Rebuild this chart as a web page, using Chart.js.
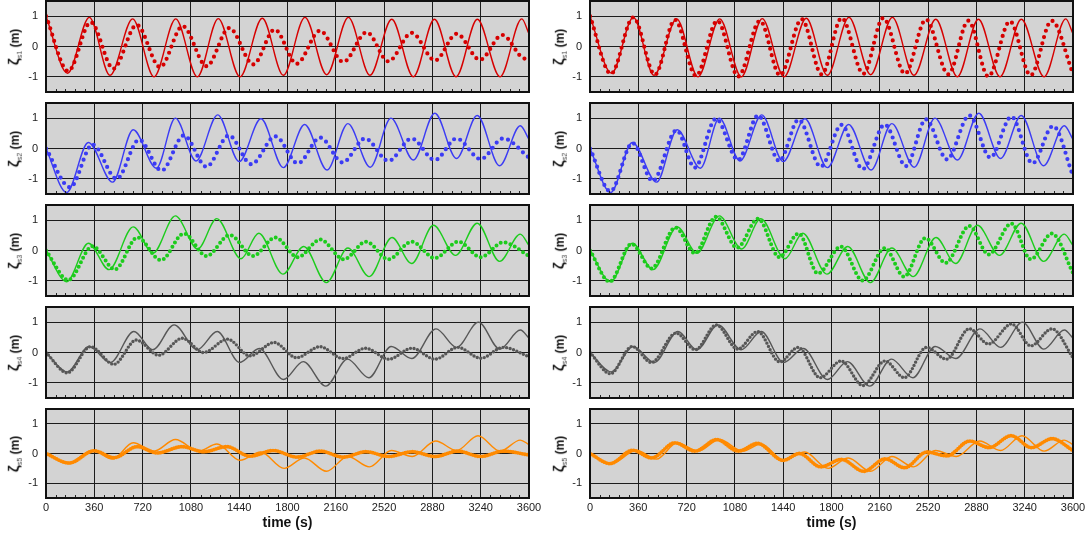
<!DOCTYPE html>
<html>
<head>
<meta charset="utf-8">
<script src="https://cdn.jsdelivr.net/npm/chart.js@4.4.0/dist/chart.umd.min.js"></script>
<style>
  body { margin: 0; background: #fff; width: 1089px; height: 538px; overflow: hidden; position: relative;
         font-family: 'Liberation Sans', Arial, sans-serif; }
  canvas { position: absolute; }
  .ylab { position: absolute; transform: translate(-50%, -50%) rotate(-90deg); white-space: nowrap;
          font-weight: bold; font-size: 12px; color: #111; }
  .ylab .z { font-size: 15px; }
  .ylab sub { font-size: 7px; font-weight: normal; color: #444; }
</style>
</head>
<body>
<script>
// axis ticks
const timeTicks = [0, 360, 720, 1080, 1440, 1800, 2160, 2520, 2880, 3240, 3600];
const zetaTicks = [-1, 0, 1];

// [time (s), elevation (m)] at turning points; solid curves are shared by both columns
const zeta1Line = [[0,1],[161,-0.88],[323,0.96],[477,-0.95],[646,0.91],[805,-1.0],[967,0.91],[1128,-1.0],[1284,0.92],[1446,-1.0],[1612,0.93],[1769,-0.95],[1930,0.96],[2092,-0.93],[2254,0.96],[2415,-0.95],[2577,0.9],[2738,-1.0],[2895,0.9],[3056,-1.0],[3215,0.9],[3384,-1.0],[3546,0.91],[3600,0.42]];
const zeta1Left = [[0,1],[166,-0.81],[333,0.8],[502,-0.73],[676,0.71],[850,-0.68],[1019,0.67],[1197,-0.65],[1366,0.61],[1545,-0.59],[1705,0.56],[1868,-0.57],[2042,0.52],[2216,-0.51],[2390,0.47],[2552,-0.49],[2726,0.45],[2900,-0.46],[3061,0.42],[3234,-0.44],[3401,0.38],[3570,-0.4],[3600,-0.39]];
const zeta1Right = [[0,1],[156,-0.9],[323,0.96],[484,-0.93],[633,0.88],[790,-0.97],[949,0.85],[1105,-0.99],[1267,0.85],[1416,-0.95],[1578,0.9],[1727,-0.92],[1876,0.94],[2037,-0.9],[2186,0.94],[2348,-0.9],[2504,0.89],[2671,-0.92],[2820,0.85],[2969,-0.99],[3130,0.83],[3284,-0.95],[3441,0.85],[3600,-0.9]];

const zeta2Line = [[0,0],[154,-1.45],[316,0.2],[496,-1.11],[650,0.62],[823,-0.65],[964,1.0],[1118,-0.41],[1280,1.11],[1440,-0.43],[1602,0.98],[1769,-0.63],[1928,0.79],[2095,-0.71],[2250,0.82],[2417,-0.62],[2571,1.0],[2738,-0.38],[2898,1.16],[3060,-0.33],[3214,1.09],[3381,-0.57],[3535,0.75],[3600,0.3]];
const zeta2Left = [[0,0],[180,-1.28],[347,0.13],[527,-1.0],[694,0.29],[861,-0.73],[1028,0.43],[1196,-0.6],[1363,0.43],[1530,-0.52],[1710,0.4],[1877,-0.49],[2044,0.36],[2211,-0.46],[2378,0.33],[2553,-0.41],[2725,0.33],[2898,-0.38],[3060,0.33],[3240,-0.35],[3407,0.33],[3600,-0.3]];
const zeta2Right = [[0,0],[152,-1.41],[317,0.18],[467,-1.07],[645,0.6],[781,-0.63],[939,0.98],[1104,-0.38],[1253,1.09],[1411,-0.41],[1555,0.95],[1720,-0.6],[1875,0.78],[2032,-0.68],[2197,0.79],[2355,-0.58],[2504,0.96],[2661,-0.36],[2827,1.09],[2984,-0.3],[3141,1.05],[3298,-0.49],[3451,0.74],[3600,-0.9]];

const zeta3Line = [[0,0],[154,-1.03],[316,0.24],[470,-0.63],[650,0.78],[797,-0.09],[964,1.14],[1131,0.05],[1273,1.05],[1453,-0.27],[1586,0.57],[1766,-0.78],[1921,0.13],[2090,-1.06],[2250,0.08],[2409,-0.86],[2579,0.43],[2725,-0.43],[2888,0.83],[3052,-0.16],[3214,0.9],[3381,-0.36],[3535,0.54],[3600,0.16]];
const zeta3Left = [[0,0],[167,-0.97],[347,0.14],[514,-0.62],[681,0.43],[856,-0.32],[1028,0.56],[1196,-0.18],[1370,0.51],[1543,-0.18],[1710,0.43],[1877,-0.22],[2044,0.36],[2219,-0.29],[2386,0.29],[2553,-0.29],[2725,0.29],[2898,-0.25],[3073,0.29],[3240,-0.22],[3407,0.27],[3600,-0.18]];
const zeta3Right = [[0,0],[147,-1.03],[309,0.22],[459,-0.59],[637,0.76],[781,-0.09],[939,1.11],[1096,0.09],[1253,1.05],[1411,-0.22],[1555,0.56],[1699,-0.76],[1870,0.13],[2032,-0.99],[2197,0.08],[2341,-0.86],[2499,0.41],[2651,-0.41],[2827,0.81],[2971,-0.13],[3141,0.89],[3285,-0.29],[3443,0.56],[3600,-0.74]];

const zeta4Line = [[0,0],[159,-0.64],[321,0.2],[480,-0.33],[655,0.69],[796,0.09],[955,0.91],[1127,0.09],[1276,0.69],[1443,-0.33],[1590,0.13],[1769,-0.89],[1918,-0.3],[2085,-1.11],[2247,-0.22],[2406,-0.83],[2573,0.2],[2727,-0.2],[2907,0.78],[3061,0.17],[3223,1.0],[3382,0.11],[3536,0.74],[3600,0.47]];
const zeta4Left = [[0,0],[159,-0.67],[331,0.19],[506,-0.39],[673,0.41],[840,-0.09],[1015,0.47],[1174,0.0],[1353,0.44],[1520,-0.11],[1700,0.33],[1867,-0.17],[2042,0.19],[2214,-0.2],[2381,0.14],[2555,-0.22],[2727,0.14],[2900,-0.22],[3069,0.17],[3241,-0.19],[3408,0.17],[3600,-0.14]];
const zeta4Right = [[0,0],[152,-0.7],[314,0.2],[458,-0.33],[641,0.64],[785,0.09],[942,0.91],[1100,0.11],[1249,0.69],[1414,-0.31],[1552,0.17],[1715,-0.83],[1872,-0.28],[2034,-1.09],[2199,-0.28],[2343,-0.83],[2508,0.17],[2657,-0.22],[2827,0.78],[2971,0.28],[3142,0.94],[3286,0.22],[3443,0.78],[3600,-0.17]];

const zeta5Line = [[0,0],[161,-0.34],[346,0.11],[495,-0.19],[650,0.36],[804,0.08],[965,0.47],[1138,0.08],[1274,0.32],[1447,-0.23],[1600,0.05],[1775,-0.5],[1925,-0.15],[2090,-0.6],[2250,-0.1],[2410,-0.45],[2575,0.1],[2730,-0.1],[2905,0.42],[3060,0.1],[3220,0.6],[3385,0.08],[3535,0.45],[3600,0.3]];
const zeta5Left = [[0,0],[173,-0.32],[359,0.09],[507,-0.14],[680,0.23],[829,0.02],[1014,0.23],[1175,0.06],[1348,0.23],[1521,-0.09],[1695,0.1],[1870,-0.12],[2045,0.08],[2215,-0.12],[2385,0.06],[2555,-0.1],[2730,0.06],[2900,-0.1],[3070,0.08],[3240,-0.1],[3410,0.08],[3600,-0.05]];
const zeta5Right = [[0,0],[149,-0.34],[318,0.11],[459,-0.15],[633,0.36],[782,0.08],[944,0.47],[1105,0.08],[1247,0.34],[1440,-0.23],[1560,0.0],[1720,-0.45],[1875,-0.2],[2040,-0.6],[2200,-0.18],[2345,-0.48],[2510,0.05],[2660,-0.08],[2830,0.42],[2975,0.2],[3140,0.6],[3290,0.2],[3445,0.5],[3600,0.1]];

const FONT = "'Liberation Sans', Arial, sans-serif";

const rows = [
  { sub: 's1', color: '#d60000', line: zeta1Line, left: zeta1Left, right: zeta1Right, dot: 4.2, gap: 6.5 },
  { sub: 's2', color: '#3b3bf4', line: zeta2Line, left: zeta2Left, right: zeta2Right, dot: 4.2, gap: 6.5 },
  { sub: 's3', color: '#1ccc1c', line: zeta3Line, left: zeta3Left, right: zeta3Right, dot: 4.0, gap: 5 },
  { sub: 's4', color: '#575757', line: zeta4Line, left: zeta4Left, right: zeta4Right, dot: 3.4, gap: 3.6 },
  { sub: 's5', color: '#ff8a00', line: zeta5Line, left: zeta5Left, right: zeta5Right, dot: 3.8, gap: 2.4 }
];

const toXY = pts => pts.map(([x, y]) => ({ x, y }));

// grey plot background, black frame and small inner ticks on the time axis
const panelFrame = {
  id: 'panelFrame',
  beforeDraw(chart) {
    const { ctx, chartArea: a } = chart;
    ctx.save();
    ctx.fillStyle = '#d3d3d3';
    ctx.fillRect(a.left, a.top, a.right - a.left, a.bottom - a.top);
    ctx.restore();
  },
  afterDraw(chart) {
    const { ctx, chartArea: a } = chart;
    const xs = chart.scales.x;
    ctx.save();
    ctx.strokeStyle = '#222';
    ctx.lineWidth = 1;
    ctx.beginPath();
    for (let t = 72; t < 3600; t += 72) {
      if (t % 360 === 0) continue;
      const px = Math.round(xs.getPixelForValue(t)) + 0.5;
      ctx.moveTo(px, a.bottom);
      ctx.lineTo(px, a.bottom - 3);
    }
    ctx.stroke();
    ctx.strokeStyle = '#111';
    ctx.lineWidth = 2;
    ctx.strokeRect(a.left, a.top, a.right - a.left, a.bottom - a.top);
    ctx.restore();
  }
};

function makePanel(row, r, c) {
  const isBottom = r === 4;
  const canvas = document.createElement('canvas');
  canvas.width = c === 0 ? 542 : 545;
  canvas.height = isBottom ? 126 : 94;
  canvas.style.left = (c === 0 ? 0 : 544) + 'px';
  canvas.style.top = (102 * r) + 'px';
  document.body.appendChild(canvas);

  const label = document.createElement('div');
  label.className = 'ylab';
  label.style.left = (c === 0 ? 14 : 559) + 'px';
  label.style.top = (isBottom ? 453.5 : 46.5 + 102 * r) + 'px';
  label.innerHTML = '<span class="z">ζ</span><sub>' + row.sub + '</sub> (m)';
  document.body.appendChild(label);

  const gridStyle = { color: '#1c1c1c', lineWidth: 1, drawTicks: false };

  new Chart(canvas, {
    type: 'line',
    data: {
      datasets: [
        {
          data: toXY(row.line),
          borderColor: row.color,
          borderWidth: 1.4,
          pointRadius: 0,
          cubicInterpolationMode: 'monotone',
          order: 0
        },
        {
          data: toXY(c === 0 ? row.left : row.right),
          borderColor: row.color,
          borderWidth: row.dot,
          borderDash: [0, row.gap],
          borderCapStyle: 'round',
          pointRadius: 0,
          cubicInterpolationMode: 'monotone',
          order: 1
        }
      ]
    },
    options: {
      responsive: false,
      animation: false,
      events: [],
      layout: { padding: { top: 1, right: c === 0 ? 13 : 16, left: 0, bottom: 0 } },
      plugins: { legend: { display: false }, tooltip: { enabled: false } },
      scales: {
        x: {
          type: 'linear',
          min: 0,
          max: 3600,
          afterBuildTicks: s => { s.ticks = timeTicks.map(v => ({ value: v })); },
          afterFit: s => {
            s.height = isBottom ? 36 : 2;
            s.paddingLeft = 0;
            s.paddingRight = 0;
          },
          grid: gridStyle,
          border: { display: false },
          ticks: {
            display: isBottom,
            padding: 3,
            color: '#222',
            maxRotation: 0,
            autoSkip: false,
            font: { family: FONT, size: 11 },
            callback: v => String(v)
          },
          title: {
            display: isBottom,
            text: 'time (s)',
            color: '#111',
            font: { family: FONT, size: 14, weight: 'bold' },
            padding: { top: 2, bottom: 2 }
          }
        },
        y: {
          min: -1.5,
          max: 1.5,
          afterBuildTicks: s => { s.ticks = zetaTicks.map(v => ({ value: v })); },
          afterFit: s => {
            s.width = 46;
            s.paddingTop = 0;
            s.paddingBottom = 0;
          },
          grid: gridStyle,
          border: { display: false },
          ticks: {
            padding: 8,
            color: '#222',
            font: { family: FONT, size: 11 },
            callback: v => String(v)
          }
        }
      }
    },
    plugins: [panelFrame]
  });
}

rows.forEach((row, r) => {
  makePanel(row, r, 0);
  makePanel(row, r, 1);
});
</script>
</body>
</html>
